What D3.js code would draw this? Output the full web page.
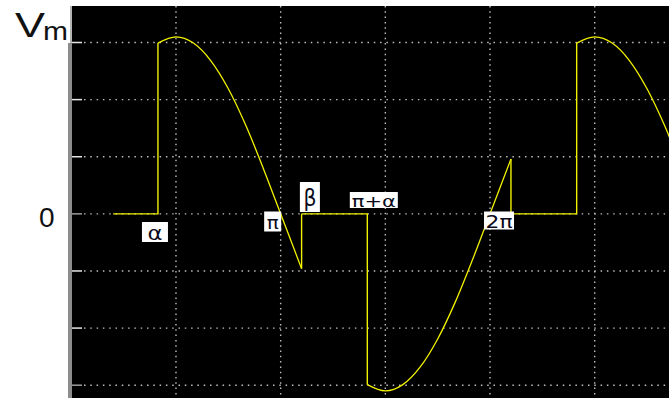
<!DOCTYPE html>
<html>
<head>
<meta charset="utf-8">
<script src="https://cdn.jsdelivr.net/npm/d3@7"></script>
<style>
  html, body { margin: 0; padding: 0; background: #fff; }
  svg { display: block; }
</style>
</head>
<body>
<svg id="chart" width="669" height="398"></svg>
<script>
// Firing angles (degrees) of the controlled rectifier output
const zeroStartDeg = [36, 198, 378];
const zeroEndDeg   = [74.5, 254.5, 434.5];

// Output voltage lobes, in grid divisions (Vm at 3 divisions)
const lobe1Deg = [74.5, 90, 105, 120, 135, 150, 165, 180, 198];
const lobe1V   = [2.99, 3.10, 2.99, 2.68, 2.19, 1.55, 0.80, 0, -0.96];
const lobe2Deg = [254.5, 270, 285, 300, 315, 330, 345, 360, 378];
const lobe2V   = [-2.99, -3.10, -2.99, -2.68, -2.19, -1.55, -0.80, 0, 0.96];
const lobe3Deg = [434.5, 450, 465, 480, 495, 510, 525];
const lobe3V   = [2.99, 3.10, 2.99, 2.68, 2.19, 1.55, 0.80];

// Grid
const vGridDeg = [90, 180, 270, 360, 450];
const hGridDiv = [-3, -2, -1, 0, 1, 2, 3];

// Angle markers on the waveform
const markerText = ["α", "π", "β", "π+α", "2π"];
const markerDeg  = [74.5, 180, 198, 254.5, 360];

const svg = d3.select("#chart");
const W = 669, H = 398;
const plot = { left: 72, top: 6, right: W, bottom: H };

const x = d3.scaleLinear().domain([0, 450]).range([71.3, 594.7]);
const y = d3.scaleLinear().domain([-3, 3]).range([385.2, 42.5]);

// Plot background
svg.append("rect")
  .attr("x", plot.left).attr("y", plot.top)
  .attr("width", plot.right - plot.left).attr("height", plot.bottom - plot.top)
  .attr("fill", "#000");

// Left axis bar
svg.append("rect").attr("x", 70).attr("y", plot.top).attr("width", 2).attr("height", 38).attr("fill", "#b4b4b4");
svg.append("rect").attr("x", 68).attr("y", 43).attr("width", 4).attr("height", H - 43).attr("fill", "#8c8c8c");

svg.append("defs").append("clipPath").attr("id", "plotClip")
  .append("rect")
  .attr("x", plot.left).attr("y", plot.top)
  .attr("width", plot.right - plot.left).attr("height", plot.bottom - plot.top);

const grid = svg.append("g").attr("clip-path", "url(#plotClip)");

grid.selectAll("line.hgrid").data(hGridDiv).join("line")
  .attr("class", "hgrid")
  .attr("x1", plot.left + 12).attr("x2", plot.right)
  .attr("y1", d => y(d)).attr("y2", d => y(d))
  .attr("stroke", "#bdbdbd").attr("stroke-width", 1.4)
  .attr("stroke-dasharray", "1.5,4.8");

grid.selectAll("line.vgrid").data(vGridDeg).join("line")
  .attr("class", "vgrid")
  .attr("x1", d => x(d)).attr("x2", d => x(d))
  .attr("y1", plot.top).attr("y2", plot.bottom)
  .attr("stroke", "#bdbdbd").attr("stroke-width", 1.4)
  .attr("stroke-dasharray", "1.5,3.8");

// Tick stubs at the axis
grid.selectAll("line.tick").data(hGridDiv).join("line")
  .attr("class", "tick")
  .attr("x1", plot.left).attr("x2", plot.left + 10)
  .attr("y1", d => y(d)).attr("y2", d => y(d))
  .attr("stroke", d => (d === 0 || d === -3) ? "#9a9a9a" : "#e6e6e6")
  .attr("stroke-width", 1.5);

// Waveform
const wave = svg.append("g").attr("clip-path", "url(#plotClip)");
const yellow = "#f2f200";

const lobes = [
  d3.zip(lobe1Deg, lobe1V),
  d3.zip(lobe2Deg, lobe2V),
  d3.zip(lobe3Deg, lobe3V)
];

// Flat zero sections and the vertical switching edges
const steps = [];
lobes.forEach((lobe, i) => {
  steps.push([[zeroStartDeg[i], 0], [zeroEndDeg[i], 0], lobe[0]]);
  if (i < 2) steps.push([lobe[lobe.length - 1], [lobe[lobe.length - 1][0], 0]]);
});

const stepLine = d3.line().x(d => x(d[0])).y(d => y(d[1]));
const lobeLine = d3.line().x(d => x(d[0])).y(d => y(d[1])).curve(d3.curveMonotoneX);

wave.selectAll("path.step").data(steps).join("path")
  .attr("class", "step")
  .attr("d", stepLine)
  .attr("fill", "none").attr("stroke", yellow).attr("stroke-width", 1.4);

wave.selectAll("path.lobe").data(lobes).join("path")
  .attr("class", "lobe")
  .attr("d", lobeLine)
  .attr("fill", "none").attr("stroke", yellow).attr("stroke-width", 1.3);

// Marker labels: white boxes with black text
const markerBoxes = [
  { dx: -16, top: 222, w: 26, h: 20, size: 20, len: 15 },
  { dx: -16.5, top: 211.5, w: 17, h: 20, size: 18, len: 12 },
  { dx: -1.7, top: 182, w: 20, h: 30, size: 23, len: 13 },
  { dx: -17.5, top: 192, w: 48, h: 16, size: 16, len: 44 },
  { dx: -6, top: 211.5, w: 30, h: 18, size: 17, len: 27 }
];

const labels = svg.selectAll("g.marker").data(markerText).join("g").attr("class", "marker");
labels.append("rect")
  .attr("x", (d, i) => x(markerDeg[i]) + markerBoxes[i].dx)
  .attr("y", (d, i) => markerBoxes[i].top)
  .attr("width", (d, i) => markerBoxes[i].w)
  .attr("height", (d, i) => markerBoxes[i].h)
  .attr("fill", "#fff");
labels.append("text")
  .attr("x", (d, i) => x(markerDeg[i]) + markerBoxes[i].dx + markerBoxes[i].w / 2)
  .attr("y", (d, i) => markerBoxes[i].top + markerBoxes[i].h / 2 + 1)
  .attr("text-anchor", "middle")
  .attr("dominant-baseline", "central")
  .attr("font-family", "'DejaVu Sans', Verdana, sans-serif")
  .attr("font-size", (d, i) => markerBoxes[i].size)
  .attr("textLength", (d, i) => markerBoxes[i].len)
  .attr("lengthAdjust", "spacingAndGlyphs")
  .attr("fill", "#0a0a1a")
  .text(d => d);

// Axis labels
svg.append("text")
  .attr("x", 15).attr("y", 37)
  .attr("font-family", "'Liberation Sans', Arial, sans-serif")
  .attr("font-size", 35)
  .attr("textLength", 30).attr("lengthAdjust", "spacingAndGlyphs")
  .attr("fill", "#111").text("V");
svg.append("text")
  .attr("x", 43).attr("y", 40)
  .attr("font-family", "'Liberation Sans', Arial, sans-serif")
  .attr("font-size", 25)
  .attr("textLength", 25).attr("lengthAdjust", "spacingAndGlyphs")
  .attr("fill", "#111").text("m");
svg.append("text")
  .attr("x", 39).attr("y", 227)
  .attr("font-family", "'Liberation Sans', Arial, sans-serif")
  .attr("font-size", 28)
  .attr("fill", "#111").text("0");
</script>
</body>
</html>
